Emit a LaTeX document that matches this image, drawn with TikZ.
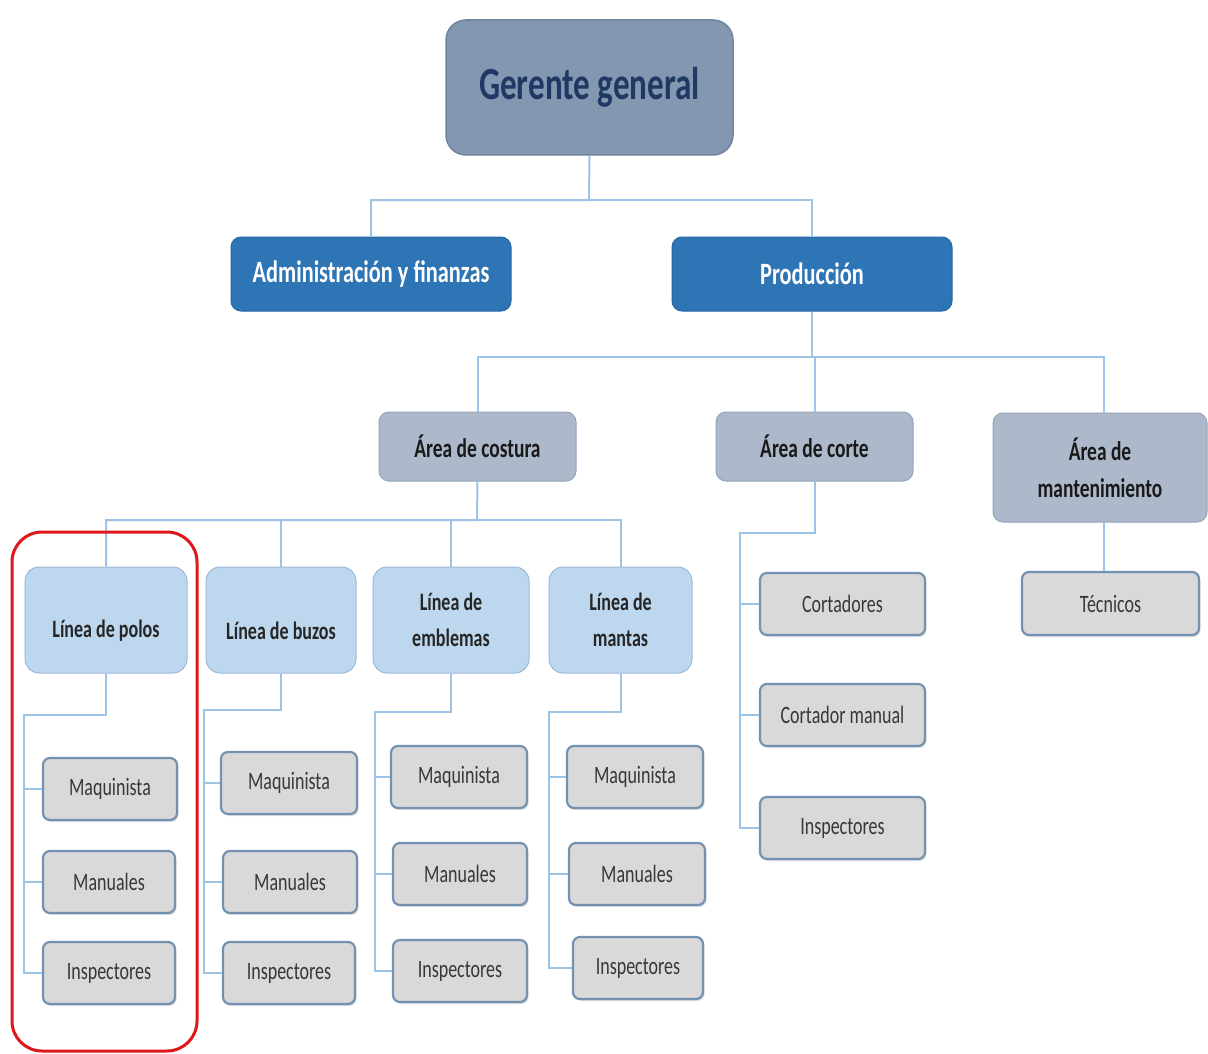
\documentclass[tikz,border=0pt]{standalone}
\usepackage{fontspec}
\setmainfont{Carlito}
\newfontfamily\orgfont[FakeStretch=0.72]{Carlito}
\usetikzlibrary{shadows}
\definecolor{topfill}{HTML}{8497B0}
\definecolor{topdraw}{HTML}{6F84A2}
\definecolor{toptext}{HTML}{1F3864}
\definecolor{deptfill}{HTML}{2E75B6}
\definecolor{deptdraw}{HTML}{2767A2}
\definecolor{areafill}{HTML}{ADB9CA}
\definecolor{areadraw}{HTML}{93A4BA}
\definecolor{linefill}{HTML}{BDD7EE}
\definecolor{linedraw}{HTML}{9CB9D6}
\definecolor{jobfill}{HTML}{D9D9D9}
\definecolor{jobdraw}{HTML}{7391B0}
\definecolor{jobtext}{HTML}{383838}
\definecolor{wire}{HTML}{9DC3E6}
\definecolor{highlightred}{HTML}{E0161B}
% lowers a one-line label inside its box without changing the box
\newcommand\lowered[1]{\raisebox{-11pt}[\height][\depth]{#1}}
\tikzset{
  box/.style={rounded corners=10pt, inner sep=2pt, align=center, font=\orgfont},
  topbox/.style={box, rounded corners=20pt, fill=topfill, draw=topdraw, line width=1.5pt,
    text=toptext, font=\orgfont\bfseries\fontsize{46}{50}\selectfont,
    minimum width=287pt, minimum height=135pt},
  deptbox/.style={box, fill=deptfill, draw=deptdraw, line width=1pt, text=white,
    font=\orgfont\bfseries\fontsize{31}{34}\selectfont,
    minimum width=280pt, minimum height=74pt},
  areabox/.style={box, fill=areafill, draw=areadraw, line width=1pt, text=black!90,
    font=\orgfont\bfseries\fontsize{27}{37}\selectfont, minimum height=69pt},
  linebox/.style={box, rounded corners=14pt, fill=linefill, draw=linedraw, line width=1pt,
    text=black!85, font=\orgfont\bfseries\fontsize{25}{36}\selectfont,
    minimum height=106pt},
  jobbox/.style={box, rounded corners=7pt, fill=jobfill, draw=jobdraw, line width=2.2pt,
    text=jobtext, font=\orgfont\fontsize{25}{30}\selectfont,
    minimum height=62pt,
    drop shadow={shadow xshift=1.5pt, shadow yshift=-2pt, opacity=.25}},
  conn/.style={draw=wire, line width=2pt},
  highlight/.style={draw=highlightred, line width=3pt, rounded corners=30pt},
}
\begin{document}
\begin{tikzpicture}[x=1pt, y=-1pt]
\useasboundingbox[fill=white] (0,0) rectangle (1208,1054);

% management levels
\node[topbox] (gg) at (589.5,87.5) {Gerente general};
\node[deptbox] (adm) at (371,274) {Administración y finanzas};
\node[deptbox] (prod) at (812,274) {Producción};

% production areas
\node[areabox, minimum width=197pt] (cost) at (477.5,446.5) {Área de costura};
\node[areabox, minimum width=197pt] (corte) at (814.5,446.5) {Área de corte};
\node[areabox, minimum width=214pt, minimum height=109pt] (mant) at (1100,467.5) {Área de\\mantenimiento};

% sewing lines
\node[linebox, minimum width=162pt] (polos) at (106,620) {\lowered{Línea de polos}};
\node[linebox, minimum width=150pt] (buzos) at (281,620) {\lowered{Línea de buzos}};
\node[linebox, minimum width=156pt] (emb) at (451,620) {Línea de\\emblemas};
\node[linebox, minimum width=143pt] (mantas) at (620.5,620) {Línea de\\mantas};

% staff: polos
\node[jobbox, minimum width=134pt] (p1) at (110,789) {Maquinista};
\node[jobbox, minimum width=132pt] (p2) at (109,882) {Manuales};
\node[jobbox, minimum width=132pt] (p3) at (109,973) {Inspectores};
% staff: buzos
\node[jobbox, minimum width=136pt] (b1) at (289,783) {Maquinista};
\node[jobbox, minimum width=134pt] (b2) at (290,882) {Manuales};
\node[jobbox, minimum width=132pt] (b3) at (289,973) {Inspectores};
% staff: emblemas
\node[jobbox, minimum width=136pt] (e1) at (459,777) {Maquinista};
\node[jobbox, minimum width=134pt] (e2) at (460,874) {Manuales};
\node[jobbox, minimum width=134pt] (e3) at (460,971) {Inspectores};
% staff: mantas
\node[jobbox, minimum width=136pt] (m1) at (635,777) {Maquinista};
\node[jobbox, minimum width=136pt] (m2) at (637,874) {Manuales};
\node[jobbox, minimum width=130pt] (m3) at (638,968) {Inspectores};
% staff: corte
\node[jobbox, minimum width=165pt] (c1) at (842.5,604) {Cortadores};
\node[jobbox, minimum width=165pt] (c2) at (842.5,715) {Cortador manual};
\node[jobbox, minimum width=165pt] (c3) at (842.5,828) {Inspectores};
% staff: mantenimiento
\node[jobbox, minimum width=177pt, minimum height=63pt] (t1) at (1110.5,603.5) {Técnicos};

% junction points
\coordinate (j1) at (589,200);
\coordinate (j2) at (812,357);
\coordinate (j3) at (477,520);
\coordinate (rp) at (24,715);
\coordinate (rb) at (204,710);
\coordinate (re) at (375,712);
\coordinate (rm) at (549,712);
\coordinate (rc) at (740,533);
\coordinate (mt) at (1104,0);

% connectors
\draw[conn] (gg.south) -- (j1) -| (adm.north);
\draw[conn] (j1) -| (prod.north);
\draw[conn] (prod.south) -- (j2) -| (mt |- mant.north);
\draw[conn] (j2) -| (cost.north);
\draw[conn] (j2) -| (corte.north);
\draw[conn] (cost.south) -- (j3) -| (polos.north);
\draw[conn] (j3) -| (buzos.north);
\draw[conn] (j3) -| (emb.north);
\draw[conn] (j3) -| (mantas.north);
\draw[conn] (mt |- mant.south) -- (mt |- t1.north);

\draw[conn] (polos.south) |- (rp) |- (p3.west);
\draw[conn] (rp) |- (p1.west);
\draw[conn] (rp) |- (p2.west);
\draw[conn] (buzos.south) |- (rb) |- (b3.west);
\draw[conn] (rb) |- (b1.west);
\draw[conn] (rb) |- (b2.west);
\draw[conn] (emb.south) |- (re) |- (e3.west);
\draw[conn] (re) |- (e1.west);
\draw[conn] (re) |- (e2.west);
\draw[conn] (mantas.south) |- (rm) |- (m3.west);
\draw[conn] (rm) |- (m1.west);
\draw[conn] (rm) |- (m2.west);
\draw[conn] (corte.south) |- (rc) |- (c3.west);
\draw[conn] (rc) |- (c1.west);
\draw[conn] (rc) |- (c2.west);

% highlight around the polos line
\draw[highlight] (12,532) rectangle (197,1051);
\end{tikzpicture}
\end{document}
